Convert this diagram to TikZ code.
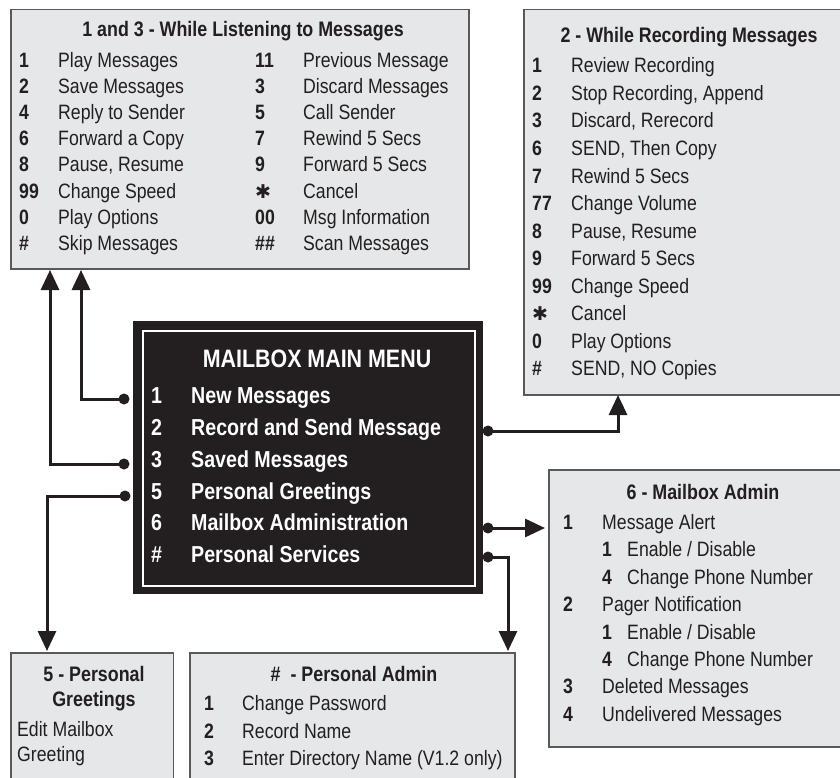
\documentclass[tikz,border=0pt]{standalone}
\usepackage{fontspec}
\usetikzlibrary{arrows.meta}
\setmainfont[FakeStretch=0.85]{Liberation Sans}
\newfontfamily\dingfont{DejaVu Sans}
\definecolor{ink}{HTML}{231F20}
\definecolor{panel}{HTML}{E6E7E8}
\definecolor{edge}{HTML}{58595B}
\newcommand{\astk}{{\dingfont\fontsize{19}{19}\selectfont ✱}}
\tikzset{
  x=1pt,y=-1pt,
  panelbox/.style={draw=edge,line width=1.5pt,fill=panel,anchor=north west,inner sep=0pt,minimum width=#1},
  txt/.style={anchor=base west,inner sep=0pt,text=ink,font=\fontsize{20.8}{24}\selectfont},
  keytxt/.style={anchor=base west,inner sep=0pt,text=ink,font=\fontsize{20.8}{24}\selectfont\bfseries},
  headtxt/.style={anchor=base,inner sep=0pt,text=ink,font=\fontsize{21}{24}\selectfont\bfseries},
  menuhead/.style={anchor=base,inner sep=0pt,text=white,font=\fontsize{25.2}{28}\selectfont\bfseries},
  menutxt/.style={anchor=base west,inner sep=0pt,text=white,font=\fontsize{23.1}{28}\selectfont\bfseries},
  dot/.style={circle,fill=ink,inner sep=0pt,minimum size=11pt},
  conn/.style={draw=ink,line width=3pt,-{Triangle[length=20pt,width=18pt]}},
}
\begin{document}
\begin{tikzpicture}
\useasboundingbox (0,0) rectangle (840,778);
% panels
\node[panelbox=458pt,minimum height=259pt] (listen) at (10,9) {};
\node[panelbox=325pt,minimum height=385pt] (record) at (523,9) {};
\node[panelbox=300pt,minimum height=277pt] (admin) at (548,469) {};
\node[panelbox=162.5pt,minimum height=135pt] (greet) at (10,652) {};
\node[panelbox=325pt,minimum height=135pt] (personal) at (189,652) {};
% main menu
\node[fill=ink,draw=ink,line width=0.5pt,anchor=north west,inner sep=0pt,minimum width=349pt,minimum height=272pt] (main) at (133,321) {};
\node[draw=white,line width=2.5pt,anchor=north west,inner sep=0pt,minimum width=332pt,minimum height=255pt] (mainin) at (141.5,329.5) {};
\node[menuhead] (mainhead) at (317,367) {MAILBOX MAIN MENU};
\foreach \nm/\ny/\nk/\nt in {a/403/1/New Messages,b/435/2/Record and Send Message,c/467/3/Saved Messages,d/499/5/Personal Greetings,e/530/6/Mailbox Administration,f/562/\#/Personal Services}{
  \node[menutxt] (mk\nm) at (151,\ny) {\nk};
  \node[menutxt] (mt\nm) at (191,\ny) {\nt};
}
% listening
\node[headtxt] (listenhead) at (243,37) {1 and 3 - While Listening to Messages};
\foreach \nm/\ny/\nk/\nt in {a/68/1/Play Messages,b/94/2/Save Messages,c/120/4/Reply to Sender,d/146/6/Forward a Copy,e/172/8/{Pause, Resume},f/198/99/Change Speed,g/224/0/Play Options,h/250/\#/Skip Messages}{
  \node[keytxt] (lk\nm) at (19,\ny) {\nk};
  \node[txt] (lt\nm) at (58,\ny) {\nt};
}
\foreach \nm/\ny/\nk/\nt in {a/68/11/Previous Message,b/94/3/Discard Messages,c/120/5/Call Sender,d/146/7/Rewind 5 Secs,e/172/9/Forward 5 Secs,f/198/\astk/Cancel,g/224/00/Msg Information,h/250/\#\#/Scan Messages}{
  \node[keytxt] (rk\nm) at (255,\ny) {\nk};
  \node[txt] (rt\nm) at (303,\ny) {\nt};
}
% recording
\node[headtxt] (recordhead) at (689,43) {2 - While Recording Messages};
\foreach \nm/\ny/\nk/\nt in {a/73/1/Review Recording,b/100.5/2/{Stop Recording, Append},c/128/3/{Discard, Rerecord},d/155.5/6/{SEND, Then Copy},e/183/7/Rewind 5 Secs,f/210.5/77/Change Volume,g/238/8/{Pause, Resume},h/265.5/9/Forward 5 Secs,i/293/99/Change Speed,j/320.5/\astk/Cancel,k/348/0/Play Options,l/375.5/\#/{SEND, NO Copies}}{
  \node[keytxt] (ck\nm) at (532,\ny) {\nk};
  \node[txt] (ct\nm) at (571,\ny) {\nt};
}
% mailbox admin
\node[headtxt] (adminhead) at (703,499) {6 - Mailbox Admin};
\foreach \nm/\ny/\nk/\nt in {a/529/1/Message Alert,d/611/2/Pager Notification,g/693.5/3/Deleted Messages,h/721/4/Undelivered Messages}{
  \node[keytxt] (ak\nm) at (563,\ny) {\nk};
  \node[txt] (at\nm) at (602,\ny) {\nt};
}
\foreach \nm/\ny/\nk/\nt in {b/556.5/1/{Enable / Disable},c/584/4/Change Phone Number,e/639/1/{Enable / Disable},f/666/4/Change Phone Number}{
  \node[keytxt] (ak\nm) at (602,\ny) {\nk};
  \node[txt] (at\nm) at (627,\ny) {\nt};
}
% personal greetings
\node[headtxt] (greethead) at (94,681) {5 - Personal};
\node[headtxt] (greethead2) at (94,706) {Greetings};
\node[txt] (greeta) at (17,736) {Edit Mailbox};
\node[txt] (greetb) at (17,761) {Greeting};
% personal admin
\node[headtxt] (personalhead) at (354,681) {\#\ \ - Personal Admin};
\foreach \nm/\ny/\nk/\nt in {a/710/1/Change Password,b/738/2/Record Name,c/765/3/Enter Directory Name (V1.2 only)}{
  \node[keytxt] (pk\nm) at (204,\ny) {\nk};
  \node[txt] (pt\nm) at (242,\ny) {\nt};
}
% connectors
\node[dot] (d1) at (124,399) {};
\node[dot] (d3) at (124,464) {};
\node[dot] (d5) at (125,496) {};
\node[dot] (d2) at (488,431) {};
\node[dot] (d6) at (488,528) {};
\node[dot] (dh) at (488,557) {};
\coordinate (t1) at (81,270);
\coordinate (t3) at (50,270);
\coordinate (t5) at (47,651);
\coordinate (t2) at (618,395);
\coordinate (t6) at (545,528);
\coordinate (th) at (508,651);
\draw[conn] (d1.center) -| (t1);
\draw[conn] (d3.center) -| (t3);
\draw[conn] (d5.center) -| (t5);
\draw[conn] (d2.center) -| (t2);
\draw[conn] (d6.center) -- (t6);
\draw[conn] (dh.center) -| (th);
\end{tikzpicture}
\end{document}
